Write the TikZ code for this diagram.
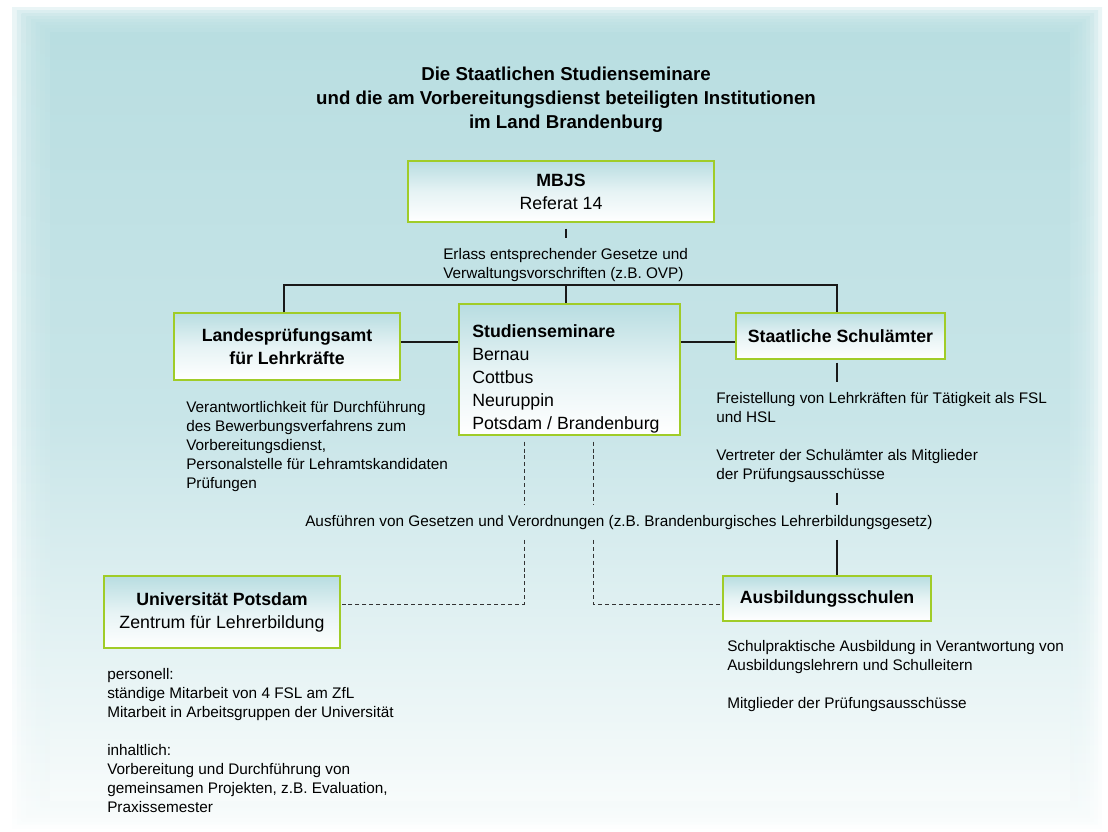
\documentclass[tikz,border=0pt]{standalone}
\usepackage{fontspec}
\setmainfont{Liberation Sans}
\usepackage{tikz}

\definecolor{bgtop}{RGB}{185,222,225}
\definecolor{bgmid}{RGB}{200,229,232}
\definecolor{bgbot}{RGB}{247,251,251}
\definecolor{boxgreen}{RGB}{160,204,40}
\definecolor{boxtop}{RGB}{184,221,225}

\newcommand{\headfont}{\fontsize{14pt}{18pt}\selectfont\bfseries}
\newcommand{\orgfont}{\fontsize{13.3pt}{17.25pt}\selectfont}
\newcommand{\descfont}{\fontsize{11.5pt}{14.25pt}\selectfont}

\tikzstyle{orgbox} = [draw=boxgreen, line width=1.1pt, rectangle,
    top color=boxtop, bottom color=white, middle color=boxtop!35!white,
    inner sep=0pt, align=center, font=\orgfont]
\tikzstyle{desc} = [anchor=north west, align=left, inner xsep=0pt,
    inner ysep=7.5pt, font=\descfont]
\tikzstyle{link} = [draw=black!90, line width=0.8pt]
\tikzstyle{dashlink} = [draw=black!80, line width=0.75pt, dash pattern=on 3pt off 2.2pt]
\tikzstyle{backdrop} = [top color=bgtop, bottom color=bgbot, middle color=bgmid]

\begin{document}
\begin{tikzpicture}[x=0.75pt, y=-0.75pt]
    \useasboundingbox (0,0) rectangle (1108,832);
    % soft background
    \foreach \i in {0,...,7}
        \shade[backdrop, opacity=0.3]
            ({12+4.75*\i},{7+3.1*\i}) rectangle ({1102-4*\i},{828-3.5*\i});
    \shade[backdrop] (50,32) rectangle (1070,800);

    \node[font=\headfont, align=center, anchor=north, inner sep=0pt] (title) at (566,67)
        {Die Staatlichen Studienseminare\\und die am Vorbereitungsdienst beteiligten Institutionen\\im Land Brandenburg};

    % boxes
    \node[orgbox, minimum width=229.5pt, minimum height=45.75pt] (mbjs) at (561,191.5)
        {\textbf{MBJS}\\Referat 14};
    \node[orgbox, minimum width=169.5pt, minimum height=50.25pt] (land) at (287,346.5)
        {\textbf{Landesprüfungsamt}\\\textbf{für Lehrkräfte}};
    \node[orgbox, minimum width=165.75pt, minimum height=98pt] (sem) at (569.5,369.5) {};
    \node[anchor=north west, align=left, inner sep=0pt, font=\orgfont] (semtxt) at (472,324)
        {\textbf{Studienseminare}\\Bernau\\Cottbus\\Neuruppin\\Potsdam / Brandenburg};
    \node[orgbox, minimum width=156.75pt, minimum height=34.5pt] (schul) at (840.5,336)
        {\textbf{Staatliche Schulämter}};
    \node[orgbox, minimum width=177pt, minimum height=54pt] (uni) at (222,612)
        {\textbf{Universität Potsdam}\\Zentrum für Lehrerbildung};
    \node[orgbox, minimum width=156pt, minimum height=33.75pt] (ausb) at (827,598.5)
        {\textbf{Ausbildungsschulen}};

    % texts
    \node[desc] (erlass) at (443,238)
        {Erlass entsprechender Gesetze und\\Verwaltungsvorschriften (z.B. OVP)};
    \node[desc] (landdesc) at (186,391)
        {Verantwortlichkeit für Durchführung\\des Bewerbungsverfahrens zum\\Vorbereitungsdienst,\\Personalstelle für Lehramtskandidaten\\Prüfungen};
    \node[desc] (schuldesc) at (716,382)
        {Freistellung von Lehrkräften für Tätigkeit als FSL\\und HSL\\[14.25pt]Vertreter der Schulämter als Mitglieder\\der Prüfungsausschüsse};
    \node[desc] (ausf) at (305,505)
        {Ausführen von Gesetzen und Verordnungen (z.B. Brandenburgisches Lehrerbildungsgesetz)};
    \node[desc] (unidesc) at (107,658)
        {personell:\\ständige Mitarbeit von 4 FSL am ZfL\\Mitarbeit in Arbeitsgruppen der Universität\\[14.25pt]inhaltlich:\\Vorbereitung und Durchführung von\\gemeinsamen Projekten, z.B. Evaluation,\\Praxissemester};
    \node[desc] (ausbdesc) at (727,630)
        {Schulpraktische Ausbildung in Verantwortung von\\Ausbildungslehrern und Schulleitern\\[14.25pt]Mitglieder der Prüfungsausschüsse};

    % connectors
    \coordinate (busL) at (284,285);
    \coordinate (busM) at (566,285);
    \coordinate (busR) at (837,285);
    \coordinate (midrow) at (0,342);
    \coordinate (dl) at (524,604);
    \coordinate (dr) at (593,604);

    \draw[link] ([yshift=-4.5pt]mbjs.south -| busM) -- (busM |- erlass.north);
    \draw[link] (busL |- land.north) -- (busL) -- (busR) -- (busR |- schul.north);
    \draw[link] (busM) -- (busM |- sem.north);
    \draw[link] (land.east |- midrow) -- (sem.west |- midrow);
    \draw[link] (sem.east |- midrow) -- (schul.west |- midrow);
    \draw[link] ([yshift=-2.25pt]schul.south -| busR) -- (busR |- schuldesc.north);
    \draw[link] (busR |- schuldesc.south) -- (busR |- ausf.north);
    \draw[link] (busR |- ausf.south) -- (busR |- ausb.north);

    \draw[dashlink] ([yshift=-4.5pt]sem.south -| dl) -- (dl |- ausf.north);
    \draw[dashlink] (dl |- ausf.south) -- (dl) -- (dl -| uni.east);
    \draw[dashlink] ([yshift=-4.5pt]sem.south -| dr) -- (dr |- ausf.north);
    \draw[dashlink] (dr |- ausf.south) -- (dr) -- (dr -| ausb.west);
\end{tikzpicture}
\end{document}
